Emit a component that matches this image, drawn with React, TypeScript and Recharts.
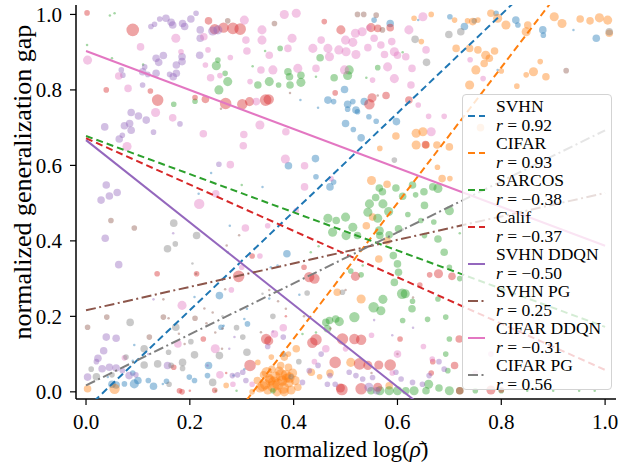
import React from "react";
import { Legend, ReferenceLine, Scatter, ScatterChart, XAxis, YAxis, ZAxis } from "recharts";

const font = "Liberation Serif, Times New Roman, Times, DejaVu Serif, Noto Serif, serif";

// [x, y, size level 1..7]
type Pt = [number, number, number];

const svhnPts: Pt[] = [
  [0.498, 0.801, 3], [0.466, 0.773, 3], [0.477, 0.769, 2], [0.504, 0.762, 3], [0.504, 0.749, 2],
  [0.514, 0.769, 2], [0.52, 0.747, 3], [0.523, 0.742, 2], [0.536, 0.769, 3], [0.5, 0.711, 3],
  [0.515, 0.695, 2], [0.53, 0.673, 3], [0.545, 0.729, 2], [0.559, 0.717, 2], [0.598, 0.716, 3],
  [0.442, 0.618, 3], [0.39, 0.599, 3], [0.443, 0.57, 2], [0.47, 0.543, 3], [0.477, 0.556, 2],
  [0.555, 0.985, 2], [0.586, 0.976, 3], [0.34, 0.543, 1], [0.413, 0.773, 1], [0.447, 0.753, 1],
  [0.701, 0.994, 2], [0.729, 0.968, 3], [0.748, 0.983, 2], [0.79, 1.003, 2], [0.828, 0.985, 3],
  [0.832, 0.972, 2], [0.88, 0.959, 3], [0.881, 0.945, 2], [0.983, 0.937, 3], [0.939, 0.959, 1],
  [0.793, 0.853, 1], [0.241, 0.58, 1], [0.217, 0.525, 1], [0.257, 0.255, 3], [0.209, 0.251, 1],
  [0.236, 0.07, 3], [0.234, 0.043, 2], [0.209, 0.03, 2], [0.199, 0.039, 2], [0.13, 0.015, 3],
  [0.093, 0.021, 4], [0.058, 0.018, 3], [0.074, 0.021, 2], [0.042, 0.039, 1], [0.148, 0.021, 1],
  [0.311, 0.18, 2], [0.31, 0.22, 1], [0.26, 0.171, 2], [0.265, 0.175, 1], [0.284, 0.043, 1],
  [0.093, 0.124, 1], [0.09, 0.082, 1], [0.305, 0.193, 1], [0.305, 0.06, 1], [0.273, 0.37, 1],
  [0.277, 0.44, 1], [0.05, 0.02, 3], [0.387, 0.366, 3], [0.369, 0.335, 1], [0.353, 0.247, 1],
  [0.411, 0.257, 1], [0.356, 0.33, 1], [0.1, 0.03, 3], [0.12, 0.03, 2], [0.155, 0.028, 2],
  [0.09, 0.05, 2], [0.64, 0.985, 1],
];

const cifarPts: Pt[] = [
  [0.335, 0.01, 4], [0.345, 0.02, 5], [0.35, 0.005, 4], [0.355, 0.03, 5], [0.36, 0.015, 6],
  [0.365, 0.04, 5], [0.37, 0.02, 6], [0.372, 0.055, 4], [0.378, 0.03, 5], [0.38, 0.01, 6],
  [0.385, 0.045, 5], [0.39, 0.025, 5], [0.395, 0.005, 4], [0.398, 0.05, 4], [0.403, 0.03, 4],
  [0.342, 0.045, 3], [0.358, 0.06, 3], [0.375, 0.07, 3], [0.39, 0.065, 3], [0.408, 0.012, 3],
  [0.33, 0.03, 3], [0.368, 0.0, 4], [0.382, 0.0, 4], [0.353, 0.035, 4], [0.386, 0.036, 4],
  [0.434, 0.052, 3], [0.405, 0.114, 3], [0.39, 0.1, 2], [0.382, 0.092, 3], [0.357, 0.092, 2],
  [0.331, 0.078, 2], [0.51, 0.078, 4], [0.484, 0.264, 3], [0.53, 0.246, 4], [0.552, 0.463, 3],
  [0.564, 0.352, 3], [0.584, 0.016, 3], [0.27, 0.017, 2], [0.003, 0.008, 3], [0.055, 0.008, 5],
  [0.47, 0.05, 3], [0.45, 0.04, 2], [0.32, 0.0, 2], [0.636, 0.685, 4], [0.649, 0.689, 4],
  [0.597, 0.678, 3], [0.636, 0.654, 4], [0.655, 0.654, 3], [0.566, 0.645, 2], [0.632, 0.99, 2],
  [0.646, 0.928, 2], [0.665, 1.0, 2], [0.71, 0.985, 2], [0.735, 0.983, 2], [0.745, 0.981, 3],
  [0.755, 0.985, 2], [0.78, 1.003, 3], [0.793, 0.99, 4], [0.809, 0.972, 4], [0.848, 0.954, 4],
  [0.851, 0.972, 3], [0.902, 0.994, 4], [0.917, 0.976, 4], [0.952, 0.988, 3], [0.971, 0.983, 3],
  [0.989, 0.991, 4], [1.005, 0.985, 4], [1.008, 0.95, 3], [0.713, 0.91, 3], [0.739, 0.91, 3],
  [0.755, 0.906, 3], [0.77, 0.892, 4], [0.777, 0.884, 3], [0.787, 0.903, 3], [0.751, 0.853, 4],
  [0.767, 0.87, 3], [0.739, 0.813, 4], [0.862, 0.848, 4], [0.886, 0.835, 3], [0.875, 0.875, 2],
  [0.848, 0.84, 2], [0.676, 0.654, 3], [0.7, 0.649, 3], [0.686, 0.565, 3], [0.701, 0.565, 2],
  [0.677, 0.595, 2], [0.8, 0.85, 2], [0.83, 0.81, 2], [0.76, 0.7, 3], [0.8, 0.75, 2],
  [0.55, 0.56, 4], [0.58, 0.55, 3], [0.54, 0.44, 3], [0.58, 0.4, 3],
  [0.348, 0.052, 5], [0.362, 0.025, 6], [0.376, 0.045, 6], [0.392, 0.038, 5], [0.34, 0.015, 5],
];

const sarcosPts: Pt[] = [
  [0.466, 0.46, 4], [0.482, 0.454, 3], [0.5, 0.463, 4], [0.475, 0.423, 4], [0.501, 0.414, 4],
  [0.514, 0.436, 4], [0.523, 0.414, 3], [0.543, 0.476, 4], [0.546, 0.498, 4], [0.572, 0.498, 4],
  [0.562, 0.46, 4], [0.565, 0.427, 4], [0.566, 0.414, 3], [0.583, 0.478, 4], [0.584, 0.416, 3],
  [0.602, 0.432, 3], [0.592, 0.361, 3], [0.6, 0.339, 3], [0.602, 0.317, 3], [0.594, 0.29, 3],
  [0.609, 0.26, 5], [0.615, 0.26, 4], [0.572, 0.245, 4], [0.554, 0.224, 5], [0.568, 0.215, 4],
  [0.628, 0.22, 3], [0.629, 0.24, 2], [0.658, 0.192, 2], [0.61, 0.189, 2], [0.517, 0.198, 5],
  [0.469, 0.189, 3], [0.488, 0.186, 4], [0.481, 0.193, 3], [0.462, 0.184, 3], [0.465, 0.167, 3],
  [0.652, 0.494, 3], [0.645, 0.454, 2], [0.652, 0.414, 2], [0.67, 0.45, 2], [0.62, 0.47, 2],
  [0.448, 0.386, 1], [0.433, 0.37, 1], [0.533, 0.335, 1], [0.443, 0.157, 1], [0.417, 0.153, 1],
  [0.51, 0.32, 2], [0.53, 0.31, 2], [0.566, 0.003, 4], [0.584, 0.003, 4], [0.6, 0.003, 4],
  [0.616, 0.003, 3], [0.632, 0.003, 4], [0.655, 0.003, 3], [0.549, 0.003, 3], [0.7, 0.003, 4],
  [0.72, 0.003, 3], [0.75, 0.003, 2], [0.8, 0.003, 2], [0.85, 0.003, 1], [0.9, 0.003, 1],
  [0.95, 0.003, 1], [0.98, 0.003, 1], [0.66, 0.02, 4], [0.68, 0.01, 3], [0.25, 0.003, 1],
  [0.29, 0.003, 1], [0.36, 0.003, 2], [0.7, 0.48, 4], [0.678, 0.405, 3], [0.69, 0.37, 3],
  [0.7, 0.33, 2], [0.678, 0.246, 2], [0.693, 0.198, 2], [0.7, 0.14, 2], [0.693, 0.1, 2],
  [0.697, 0.056, 2], [0.72, 0.3, 2], [0.72, 0.42, 1], [0.046, 0.997, 1], [0.055, 1.003, 1],
  [0.002, 0.919, 1], [0.05, 0.884, 1], [0.251, 0.864, 4], [0.254, 0.879, 2], [0.268, 0.844, 2],
  [0.273, 0.822, 4], [0.256, 0.8, 4], [0.21, 0.77, 2], [0.169, 0.762, 2], [0.321, 0.863, 1],
  [0.3, 0.548, 1], [0.389, 0.848, 3], [0.392, 0.835, 3], [0.414, 0.839, 3], [0.414, 0.82, 4],
  [0.507, 0.853, 4], [0.504, 0.838, 4], [0.478, 0.832, 3], [0.353, 0.822, 4], [0.331, 0.813, 3],
  [0.371, 0.813, 2], [0.451, 0.885, 3], [0.374, 0.91, 2], [0.345, 0.903, 1], [0.443, 0.835, 1],
  [0.562, 0.859, 2], [0.54, 0.832, 1], [0.61, 0.9, 1], [0.393, 0.813, 3], [0.11, 0.867, 1],
  [0.571, 0.53, 3], [0.565, 0.54, 3], [0.558, 0.515, 3], [0.597, 0.54, 3], [0.61, 0.518, 3],
  [0.629, 0.548, 3], [0.635, 0.522, 2], [0.651, 0.53, 3], [0.668, 0.543, 3], [0.678, 0.539, 4],
];

const califPts: Pt[] = [
  [0.002, 1.004, 2], [0.09, 0.959, 7], [0.138, 0.773, 6], [0.039, 0.8, 2], [0.236, 0.983, 3],
  [0.248, 0.961, 5], [0.265, 0.965, 5], [0.283, 0.963, 6], [0.297, 0.961, 6], [0.269, 0.764, 6],
  [0.301, 0.762, 5], [0.315, 0.769, 4], [0.23, 0.775, 3], [0.124, 0.797, 2], [0.346, 0.773, 6],
  [0.352, 0.775, 5], [0.491, 0.959, 4], [0.549, 0.965, 4], [0.562, 0.963, 3], [0.586, 0.965, 3],
  [0.551, 0.779, 4], [0.546, 0.762, 5], [0.578, 0.785, 3], [0.622, 0.773, 3], [0.48, 0.792, 2],
  [0.459, 0.981, 2], [0.654, 0.655, 3], [0.21, 0.78, 2], [0.294, 0.306, 6], [0.316, 0.07, 6],
  [0.137, 0.313, 2], [0.213, 0.313, 2], [0.226, 0.14, 2], [0.169, 0.065, 2], [0.185, 0.0, 2],
  [0.347, 0.14, 5], [0.352, 0.135, 4], [0.443, 0.138, 6], [0.436, 0.13, 5], [0.494, 0.14, 6],
  [0.517, 0.14, 5], [0.53, 0.138, 5], [0.48, 0.078, 6], [0.527, 0.074, 6], [0.543, 0.07, 4],
  [0.564, 0.071, 4], [0.586, 0.071, 6], [0.43, 0.304, 5], [0.44, 0.3, 5], [0.519, 0.306, 4],
  [0.493, 0.006, 6], [0.53, 0.008, 6], [0.562, 0.012, 4], [0.49, 0.01, 4], [0.605, 0.14, 2],
  [0.662, 0.31, 2], [0.643, 0.283, 2], [0.665, 0.05, 2], [0.668, 0.08, 2], [0.679, 0.313, 4],
  [0.705, 0.306, 3], [0.719, 0.14, 3], [0.71, 0.07, 3], [0.72, 0.003, 3], [0.78, 0.005, 4],
  [0.8, 0.005, 2], [0.18, 0.003, 2], [0.2, 0.003, 1], [0.248, 0.004, 2], [0.27, 0.05, 1],
  [0.385, 0.2, 1], [0.42, 0.33, 2], [0.32, 0.36, 2],
];

const svhnDdqnPts: Pt[] = [
  [0.125, 0.968, 2], [0.132, 0.974, 2], [0.142, 0.988, 2], [0.154, 0.99, 3], [0.164, 0.979, 3],
  [0.167, 0.972, 3], [0.186, 0.976, 3], [0.19, 0.968, 3], [0.202, 0.988, 3], [0.212, 1.003, 2],
  [0.22, 0.959, 3], [0.22, 0.937, 3], [0.244, 0.956, 4], [0.254, 0.959, 4], [0.135, 0.884, 3],
  [0.14, 0.873, 3], [0.149, 0.891, 3], [0.185, 0.888, 3], [0.174, 0.866, 3], [0.185, 0.875, 3],
  [0.113, 0.861, 2], [0.109, 0.848, 3], [0.119, 0.841, 2], [0.135, 0.844, 3], [0.161, 0.841, 2],
  [0.168, 0.835, 3], [0.174, 0.844, 3], [0.109, 0.813, 2], [0.071, 0.839, 2], [0.068, 0.853, 2],
  [0.087, 0.74, 3], [0.101, 0.731, 3], [0.116, 0.72, 3], [0.084, 0.711, 3], [0.074, 0.705, 3],
  [0.087, 0.693, 3], [0.07, 0.68, 2], [0.064, 0.67, 3], [0.036, 0.702, 3], [0.13, 0.688, 2],
  [0.181, 0.71, 2], [0.219, 0.892, 3], [0.039, 0.548, 3], [0.045, 0.519, 3], [0.06, 0.528, 3],
  [0.029, 0.508, 3], [0.256, 0.603, 2], [0.037, 0.407, 3], [0.063, 0.337, 3], [0.168, 0.42, 1],
  [0.13, 0.245, 1], [0.039, 0.145, 3], [0.058, 0.142, 3], [0.034, 0.109, 3], [0.023, 0.089, 3],
  [0.02, 0.08, 2], [0.031, 0.061, 3], [0.045, 0.065, 3], [0.058, 0.063, 3], [0.07, 0.056, 2],
  [0.083, 0.043, 3], [0.096, 0.045, 2], [0.003, 0.039, 3], [0.157, 0.07, 3], [0.234, 0.07, 1],
  [0.282, 0.043, 2], [0.292, 0.045, 2], [0.302, 0.052, 2], [0.276, 0.114, 1], [0.286, 0.145, 1],
  [0.308, 0.03, 2], [0.47, 0.043, 2], [0.465, 0.02, 2], [0.48, 0.02, 2], [0.453, 0.1, 2],
  [0.447, 0.07, 2], [0.43, 0.056, 2], [0.417, 0.025, 2], [0.507, 0.052, 2], [0.52, 0.043, 2],
  [0.533, 0.034, 2], [0.552, 0.038, 2], [0.597, 0.052, 2], [0.607, 0.034, 2], [0.629, 0.025, 2],
  [0.648, 0.02, 2], [0.661, 0.043, 2], [0.56, 0.003, 3], [0.68, 0.08, 2], [0.69, 0.06, 2],
  [0.35, 0.12, 2], [0.38, 0.145, 2], [0.36, 0.16, 1], [0.12, 0.1, 1], [0.555, 0.19, 1],
  [0.59, 0.15, 1], [0.63, 0.17, 1], [0.545, 0.012, 4],
];

const svhnPgPts: Pt[] = [
  [0.048, 0.454, 2], [0.093, 0.434, 2], [0.003, 0.171, 2], [0.04, 0.198, 2], [0.122, 0.145, 2],
  [0.149, 0.198, 2], [0.159, 0.195, 1], [0.21, 0.195, 2], [0.228, 0.221, 1], [0.232, 0.182, 1],
  [0.244, 0.21, 1], [0.249, 0.157, 1], [0.262, 0.114, 1], [0.263, 0.168, 1], [0.19, 0.127, 1],
  [0.179, 0.154, 1], [0.149, 0.245, 1], [0.212, 0.313, 1], [0.268, 0.272, 1], [0.295, 0.415, 1],
  [0.271, 0.388, 1], [0.273, 0.983, 2], [0.363, 0.976, 2], [0.523, 1.0, 2], [0.535, 1.0, 2],
  [0.559, 0.998, 2], [0.571, 0.959, 2], [0.393, 0.792, 1], [0.562, 0.785, 1], [0.925, 0.851, 2],
  [0.471, 0.168, 1], [0.385, 0.22, 1], [0.37, 0.24, 1], [0.353, 0.27, 1], [0.337, 0.158, 1],
  [0.5, 0.27, 1], [0.42, 0.2, 1], [0.63, 0.25, 1], [0.26, 0.75, 1], [0.55, 0.05, 1], [0.6, 0.1, 1],
];

const cifarDdqnPts: Pt[] = [
  [0.003, 0.879, 4], [0.105, 0.914, 3], [0.173, 0.937, 4], [0.134, 0.74, 4], [0.167, 0.726, 3],
  [0.063, 0.837, 3], [0.081, 0.804, 3], [0.226, 0.684, 3], [0.304, 0.682, 3], [0.303, 0.652, 3],
  [0.079, 0.65, 4], [0.278, 0.602, 3], [0.24, 0.832, 3], [0.258, 0.838, 2], [0.278, 0.886, 2],
  [0.308, 0.932, 3], [0.31, 0.903, 3], [0.305, 0.985, 4], [0.235, 0.906, 2], [0.23, 0.866, 2],
  [0.316, 0.822, 2], [0.227, 0.941, 3], [0.25, 0.525, 3], [0.183, 0.901, 2], [0.382, 1.0, 4],
  [0.405, 1.003, 4], [0.339, 0.959, 4], [0.339, 0.932, 4], [0.397, 0.937, 4], [0.353, 0.892, 3],
  [0.389, 0.91, 3], [0.437, 0.91, 4], [0.453, 0.932, 3], [0.466, 0.91, 4], [0.469, 0.888, 4],
  [0.487, 0.906, 4], [0.5, 0.932, 4], [0.501, 0.901, 4], [0.514, 0.926, 4], [0.52, 0.894, 4],
  [0.519, 0.95, 4], [0.532, 0.954, 4], [0.543, 0.912, 3], [0.555, 0.937, 3], [0.568, 0.919, 3],
  [0.575, 0.894, 3], [0.589, 0.928, 3], [0.594, 0.901, 4], [0.6, 0.892, 3], [0.616, 0.888, 3],
  [0.622, 0.959, 4], [0.649, 0.994, 4], [0.655, 0.906, 3], [0.581, 0.861, 4], [0.594, 0.83, 4],
  [0.628, 0.857, 3], [0.626, 0.813, 3], [0.337, 0.853, 3], [0.36, 0.853, 4], [0.408, 0.857, 4],
  [0.443, 0.857, 3], [0.498, 0.853, 4], [0.335, 0.707, 4], [0.385, 0.689, 3], [0.384, 0.617, 4],
  [0.421, 0.599, 3], [0.421, 0.543, 3], [0.472, 0.565, 2], [0.328, 0.769, 3], [0.665, 0.689, 4],
  [0.545, 0.965, 2], [0.552, 0.826, 2], [0.64, 0.76, 2], [0.66, 0.73, 2], [0.74, 0.88, 2],
  [0.765, 0.83, 2], [0.69, 0.73, 2], [0.185, 0.229, 4], [0.218, 0.498, 5], [0.307, 0.434, 3],
  [0.249, 0.114, 4], [0.258, 0.045, 3], [0.177, 0.127, 3], [0.283, 0.02, 2], [0.074, 0.09, 2],
  [0.363, 0.153, 3], [0.38, 0.17, 3], [0.462, 0.114, 3], [0.5, 0.114, 2], [0.44, 0.08, 2],
  [0.6, 0.1, 3], [0.59, 0.05, 2], [0.65, 0.12, 2], [0.667, 0.087, 2], [0.3, 0.33, 2],
  [0.35, 0.44, 2], [0.405, 0.48, 2], [0.335, 0.36, 2], [0.28, 0.27, 2], [0.32, 0.02, 2],
  [0.55, 0.15, 2], [0.75, 0.05, 2], [0.78, 0.1, 2],
];

const cifarPgPts: Pt[] = [
  [0.169, 0.447, 3], [0.213, 0.414, 3], [0.172, 0.392, 2], [0.157, 0.379, 3], [0.085, 0.184, 3],
  [0.173, 0.171, 3], [0.112, 0.114, 3], [0.112, 0.071, 3], [0.077, 0.092, 2], [0.138, 0.074, 3],
  [0.164, 0.07, 2], [0.186, 0.078, 3], [0.186, 0.062, 2], [0.159, 0.105, 2], [0.202, 0.133, 2],
  [0.209, 0.098, 3], [0.244, 0.025, 3], [0.257, 0.096, 3], [0.31, 0.105, 3], [0.302, 0.145, 2],
  [0.263, 0.2, 1], [0.205, 0.34, 1], [0.426, 0.262, 2], [0.494, 0.264, 2], [0.634, 0.934, 3],
  [0.656, 0.873, 3], [0.594, 0.614, 2], [0.699, 0.947, 3], [0.722, 0.954, 3], [1.008, 0.954, 3],
  [0.02, 0.04, 3], [0.01, 0.06, 2], [0.05, 0.045, 2], [0.29, 0.17, 2], [0.36, 0.2, 2],
  [0.34, 0.26, 1], [0.61, 0.43, 1], [0.38, 0.1, 2], [0.41, 0.08, 2], [0.395, 0.04, 2], [0.16, 0.02, 2],
];

// linear fits: y = a + b * x
const series = [
  { name: "SVHN", r: "0.92", a: -0.045, b: 1.306, color: "#1f77b4", dash: "7 4", pts: svhnPts },
  { name: "CIFAR", r: "0.93", a: -0.578, b: 1.797, color: "#ff7f0e", dash: "7 4", pts: cifarPts },
  { name: "SARCOS", r: "\u22120.38", a: 0.678, b: -0.506, color: "#2ca02c", dash: "7 4", pts: sarcosPts },
  { name: "Calif", r: "\u22120.37", a: 0.672, b: -0.614, color: "#d62728", dash: "7 4", pts: califPts },
  { name: "SVHN DDQN", r: "\u22120.50", a: 0.667, b: -1.09, color: "#9467bd", dash: undefined, pts: svhnDdqnPts },
  { name: "SVHN PG", r: "0.25", a: 0.216, b: 0.311, color: "#8c564b", dash: "10 3.5 2 3.5", pts: svhnPgPts },
  { name: "CIFAR DDQN", r: "\u22120.31", a: 0.903, b: -0.516, color: "#e377c2", dash: undefined, pts: cifarDdqnPts },
  { name: "CIFAR PG", r: "0.56", a: 0.017, b: 0.676, color: "#7f7f7f", dash: "10 3.5 2 3.5", pts: cifarPgPts },
];

const xTicks = [0, 0.2, 0.4, 0.6, 0.8, 1.0];
const yTicks = [0, 0.2, 0.4, 0.6, 0.8, 1.0];
const xDomain: [number, number] = [-0.0193, 1.021];
const yDomain: [number, number] = [-0.019, 1.025];

const toRows = (pts: Pt[]) => pts.map(([x, y, s]) => ({ x, y, s }));

const XLabel = (props: any) => {
  const vb = props.viewBox || { x: 76, y: 399, width: 540 };
  return (
    <text x={vb.x + vb.width / 2} y={vb.y + 58} textAnchor="middle" fontSize={23} fontFamily={font} fill="#000">
      normalized log(<tspan fontStyle="italic">{"\u03C1\u0304"}</tspan>)
    </text>
  );
};

const YLabel = (props: any) => {
  const vb = props.viewBox || { x: 26, y: 5, height: 394 };
  const cx = vb.x - 4;
  const cy = vb.y + vb.height / 2 - 20;
  return (
    <text
      x={cx}
      y={cy}
      transform={`rotate(-90 ${cx} ${cy})`}
      textAnchor="middle"
      dominantBaseline="central"
      fontSize={26}
      fontFamily={font}
      fill="#000"
    >
      normalized generalization gap
    </text>
  );
};

const renderLegend = () => (
  <div
    style={{
      width: 150,
      height: 296,
      boxSizing: "border-box",
      border: "1px solid #d3d3d3",
      borderRadius: 4,
      background: "rgba(255,255,255,0.8)",
      paddingTop: 2,
      fontFamily: font,
      fontSize: 17.5,
      color: "#000",
    }}
  >
    {series.map((s) => (
      <div key={s.name} style={{ position: "relative", height: 37 }}>
        <svg width={20} height={6} style={{ position: "absolute", left: 5, top: 15.5 }}>
          <line x1={0} y1={3} x2={17} y2={3} stroke={s.color} strokeWidth={2} strokeDasharray={s.dash} />
        </svg>
        <div style={{ position: "absolute", left: 33, top: 0, lineHeight: "18.5px", whiteSpace: "nowrap" }}>
          <div>{s.name}</div>
          <div>
            <i>r</i> = {s.r}
          </div>
        </div>
      </div>
    ))}
  </div>
);

export default function App() {
  return (
    <div style={{ position: "absolute", left: 0, top: 0, fontFamily: font }}>
      <ScatterChart width={635} height={465} margin={{ top: 5, right: 19, bottom: 26, left: 26 }} style={{ fontFamily: font }}>
        <XAxis
          type="number"
          dataKey="x"
          domain={xDomain}
          ticks={xTicks}
          allowDataOverflow
          height={40}
          tickSize={6}
          tickMargin={9}
          tickFormatter={(v: number) => v.toFixed(1)}
          tick={{ fontSize: 21, fill: "#000", fontFamily: font }}
          axisLine={{ stroke: "#000", strokeWidth: 1.5 }}
          tickLine={{ stroke: "#000", strokeWidth: 1.2 }}
          label={<XLabel />}
        />
        <YAxis
          type="number"
          dataKey="y"
          domain={yDomain}
          ticks={yTicks}
          allowDataOverflow
          width={50}
          tickSize={6}
          tickMargin={8}
          tickFormatter={(v: number) => v.toFixed(1)}
          tick={{ fontSize: 21, fill: "#000", fontFamily: font }}
          axisLine={{ stroke: "#000", strokeWidth: 1.5 }}
          tickLine={{ stroke: "#000", strokeWidth: 1.2 }}
          label={<YLabel />}
        />
        <XAxis
          xAxisId="top"
          orientation="top"
          type="number"
          domain={xDomain}
          allowDataOverflow
          height={0}
          tick={false}
          tickLine={false}
          axisLine={{ stroke: "#000", strokeWidth: 1.5 }}
        />
        <YAxis
          yAxisId="right"
          orientation="right"
          type="number"
          domain={yDomain}
          allowDataOverflow
          width={0}
          tick={false}
          tickLine={false}
          axisLine={{ stroke: "#000", strokeWidth: 1.5 }}
        />
        <ZAxis type="number" dataKey="s" domain={[1, 7]} range={[5, 125]} />
        {series.map((s) => (
          <Scatter
            key={s.name}
            name={s.name}
            data={toRows(s.pts)}
            fill={s.color}
            fillOpacity={0.42}
            isAnimationActive={false}
          />
        ))}
        {series.map((s) => (
          <ReferenceLine
            key={`fit-${s.name}`}
            segment={[
              { x: 0, y: s.a },
              { x: 1.0, y: s.a + s.b * 1.0 },
            ]}
            ifOverflow="hidden"
            stroke={s.color}
            strokeWidth={2}
            strokeDasharray={s.dash}
            zIndex={700}
          />
        ))}
        <Legend
          layout="vertical"
          align="center"
          verticalAlign="middle"
          content={renderLegend}
          wrapperStyle={{ left: 462, top: 94, width: 150, height: 296 }}
        />
      </ScatterChart>
    </div>
  );
}
